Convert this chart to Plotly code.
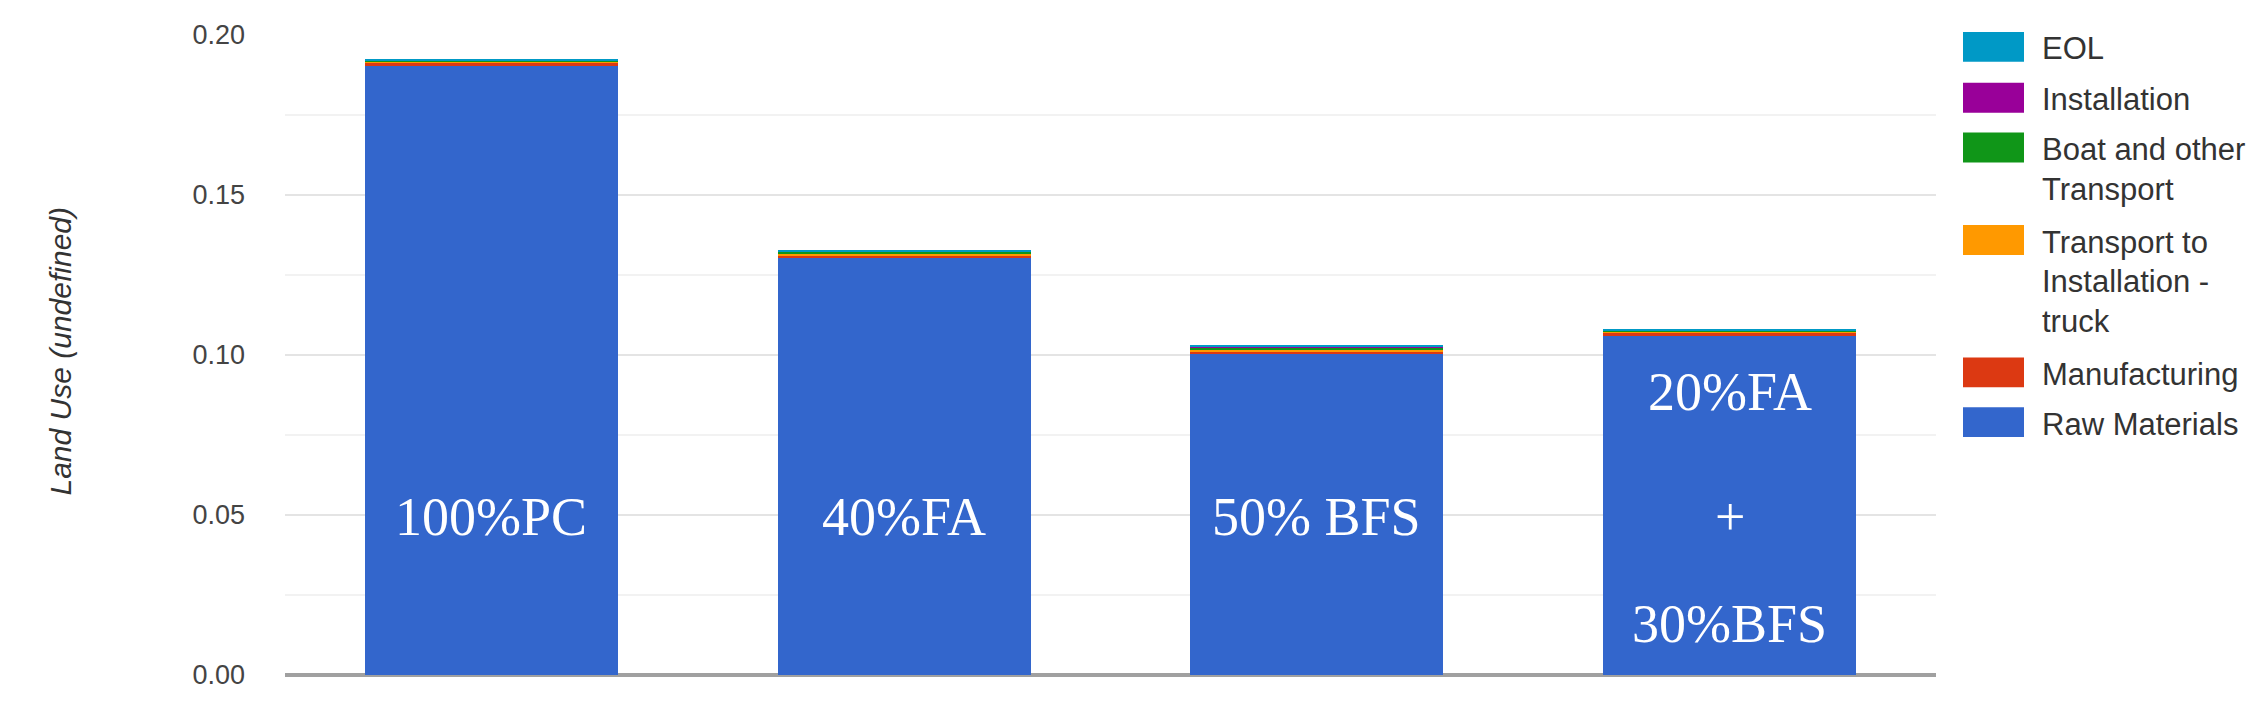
import plotly.graph_objects as go

# mixes (x categories)
mixes = ["100%PC", "40%FA", "50% BFS", "20%FA + 30%BFS"]

# stage contributions to land use, bottom to top of each stack
raw_materials = [0.1904, 0.1306, 0.1005, 0.1058]
manufacturing = [0.0010, 0.0006, 0.0005, 0.0012]
transport_truck = [0.0003, 0.0006, 0.0008, 0.0004]
boat_transport = [0.0002, 0.0004, 0.0005, 0.0002]
installation = [0.0002, 0.0002, 0.0002, 0.0001]
eol = [0.0001, 0.0004, 0.0005, 0.0002]

y_ticks = [0.00, 0.05, 0.10, 0.15, 0.20]

# labels written on the bars: (mix, y, text)
bar_labels = [
    ("100%PC", 0.0495, "100%PC"),
    ("40%FA", 0.0495, "40%FA"),
    ("50% BFS", 0.0495, "50% BFS"),
    ("20%FA + 30%BFS", 0.0885, "20%FA"),
    ("20%FA + 30%BFS", 0.0495, "+"),
    ("20%FA + 30%BFS", 0.016, "30%BFS"),
]

# legend entries, top to bottom
legend_names = ["EOL", "Installation", "Boat and other<br>Transport",
                "Transport to<br>Installation -<br>truck", "Manufacturing",
                "Raw Materials"]

stages = [
    ("Raw Materials", raw_materials, "#3366cc"),
    ("Manufacturing", manufacturing, "#dc3912"),
    ("Transport to Installation - truck", transport_truck, "#ff9900"),
    ("Boat and other Transport", boat_transport, "#109618"),
    ("Installation", installation, "#990099"),
    ("EOL", eol, "#0099c6"),
]
legend_colors = ["#0099c6", "#990099", "#109618", "#ff9900", "#dc3912", "#3366cc"]

# the page body adds an 8px margin, so work in window pixels and shift
OFF = 8
W, H = 2265 - OFF, 713 - OFF
L, R, T, B = 285 - OFF, 329, 32 - OFF, 38
PW, PH = W - L - R, H - T - B


def px(x):
    return (x - OFF - L) / PW


def py(y):
    return 1 - (y - OFF - T) / PH


fig = go.Figure()
for name, vals, color in stages:
    fig.add_trace(go.Bar(x=mixes, y=vals, name=name,
                         marker=dict(color=color, line=dict(width=0)),
                         showlegend=False))

for mix, y, text in bar_labels:
    fig.add_annotation(x=mix, y=y, text=text, showarrow=False,
                       font=dict(family="Liberation Serif", size=54, color="white"))

# hand-drawn legend with wide swatches
swatch_centres = [44, 95, 145, 238, 371, 421]
line_gap = 40
for name, color, yc in zip(legend_names, legend_colors, swatch_centres):
    fig.add_shape(type="rect", xref="paper", yref="paper",
                  x0=px(1963), x1=px(2024), y0=py(yc + 15), y1=py(yc - 15),
                  fillcolor=color, line=dict(width=0))
    for i, line in enumerate(name.split("<br>")):
        fig.add_annotation(xref="paper", yref="paper", x=px(2040),
                           y=py(yc + 2 + i * line_gap), text=line,
                           xanchor="left", yanchor="middle", showarrow=False,
                           font=dict(family="Liberation Sans", size=31, color="#333333"))

fig.add_annotation(xref="paper", yref="paper", x=px(61), y=py(350),
                   text="<i>Land Use (undefined)</i>", textangle=-90,
                   xanchor="center", yanchor="middle", showarrow=False,
                   font=dict(family="Liberation Sans", size=30, color="#333333"))

fig.update_layout(
    width=W, height=H,
    margin=dict(l=L, r=R, t=T, b=B),
    barmode="stack", bargap=0.387,
    plot_bgcolor="white", paper_bgcolor="white",
    xaxis=dict(showticklabels=False, showgrid=False, zeroline=False,
               ticks=""),
    yaxis=dict(range=[0, 0.2], tickvals=y_ticks, tickformat=".2f",
               showgrid=True, gridcolor="#e4e4e4", gridwidth=2,
               minor=dict(dtick=0.025, showgrid=True, gridcolor="#f2f2f2", gridwidth=2),
               zeroline=True, zerolinecolor="#a0a0a0", zerolinewidth=4,
               ticklabelstandoff=39,
               tickfont=dict(family="Liberation Sans", size=27, color="#444444")),
)

fig.write_html("out.html")
